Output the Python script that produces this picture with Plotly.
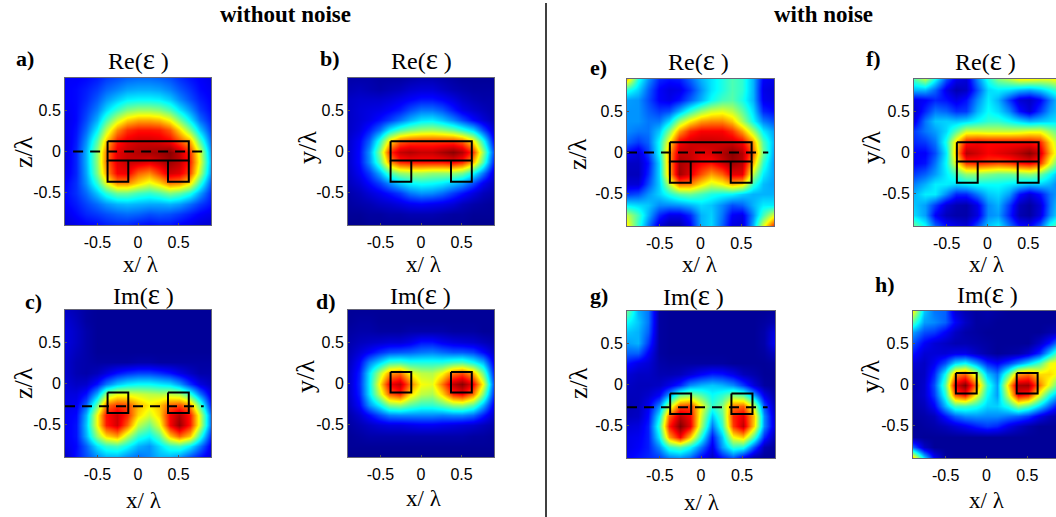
import plotly.graph_objects as go

W, H = 1056, 517
grid = [-0.9, -0.77, -0.64, -0.51, -0.39, -0.26, -0.13, 0, 0.13, 0.26, 0.39, 0.51, 0.64, 0.77, 0.9]
grid_y = grid[::-1]

panel_a = [
[12,12,13,15,18,20,22,23,23,22,20,17,14,12,10],
[12,13,15,18,22,25,28,29,29,28,25,21,17,13,11],
[12,13,16,21,27,32,36,37,37,36,32,26,20,15,12],
[11,13,18,25,34,43,50,53,53,51,45,36,27,18,13],
[10,13,20,30,44,58,67,71,71,69,62,50,36,23,15],
[10,14,23,37,56,74,83,86,86,85,79,67,50,32,18],
[9,15,27,46,68,85,90,92,92,91,88,80,70,45,22],
[9,16,30,52,75,90,93,95,96,97,99,94,82,58,26],
[9,16,30,52,76,90,93,92,90,93,97,94,84,60,28],
[10,16,29,50,72,88,89,78,74,82,92,90,80,55,26],
[12,17,27,42,60,74,74,66,60,66,76,74,64,42,20],
[13,17,23,32,41,48,48,44,42,45,50,47,40,28,16],
[12,15,19,23,27,30,31,30,29,29,30,28,23,18,14],
[10,13,16,18,20,22,23,22,20,21,20,18,15,12,10],
[8,10,12,13,15,16,16,14,13,14,14,12,10,8,7]]

panel_b = [
[3,3,3,2,2,2,3,4,4,3,2,1,1,1,1],
[4,5,4,3,4,5,7,8,8,6,4,3,2,2,2],
[6,7,7,7,8,10,12,14,14,12,9,6,4,3,3],
[6,8,9,10,12,15,20,24,24,21,15,10,7,5,3],
[6,8,10,14,18,24,30,35,36,32,26,20,13,8,4],
[6,9,15,24,36,45,50,53,54,52,48,42,34,20,7],
[7,12,22,42,64,78,81,82,82,82,82,78,64,40,12],
[7,13,27,52,82,93,95,93,93,96,99,95,82,52,18],
[7,13,26,46,72,84,86,86,86,86,88,84,70,45,14],
[6,11,18,30,44,52,54,54,52,52,52,49,38,24,8],
[5,8,13,19,26,33,37,39,38,36,32,28,20,11,5],
[3,5,8,11,14,18,24,27,26,23,18,14,9,5,3],
[2,3,4,6,7,9,11,12,11,10,8,5,3,2,1],
[1,1,2,2,3,3,4,4,4,3,2,2,1,1,1],
[0,0,1,1,1,1,1,1,1,1,1,1,0,0,0]]

panel_c = [
[6,4,2,1,1,1,1,1,1,1,1,1,1,1,1],
[8,5,2,1,1,1,1,1,1,1,1,1,1,1,1],
[9,6,3,1,1,1,1,1,1,1,1,1,1,1,1],
[9,6,3,1,1,1,1,1,1,1,1,1,1,1,1],
[8,5,3,1,1,1,1,1,1,1,1,1,1,1,1],
[7,4,3,2,2,2,2,3,3,2,2,2,2,2,2],
[7,4,3,5,9,14,17,19,19,17,14,10,6,3,3],
[8,6,7,14,24,32,36,38,38,36,34,28,17,9,5],
[9,9,14,30,52,60,60,58,56,55,56,54,42,24,9],
[10,11,22,48,76,82,80,70,64,68,78,80,72,45,14],
[11,13,30,62,86,92,84,66,58,66,88,95,85,58,22],
[11,14,32,62,85,92,78,56,48,60,88,98,85,58,22],
[11,14,30,52,66,72,56,42,37,46,68,78,68,42,15],
[10,13,22,35,42,44,38,30,27,34,42,44,36,24,10],
[6,14,20,26,30,30,26,23,26,30,30,27,20,14,8]]

panel_d = [
[1,1,1,1,1,1,1,1,1,1,1,1,1,1,1],
[1,2,2,1,1,1,1,1,1,1,1,1,1,1,1],
[2,3,3,2,2,2,3,3,3,3,2,2,2,1,1],
[3,5,6,7,8,8,10,14,14,11,9,8,7,5,3],
[4,8,12,17,20,21,22,24,25,23,21,21,19,13,6],
[5,12,25,34,42,43,40,40,40,40,43,44,38,30,10],
[6,15,35,56,72,76,62,56,55,62,76,80,70,48,14],
[6,16,36,65,88,94,76,62,60,76,94,99,88,62,18],
[6,15,35,58,78,84,66,56,54,66,84,88,76,50,15],
[5,12,27,38,50,52,46,42,42,46,52,53,46,30,10],
[3,7,13,20,25,26,26,26,26,25,26,26,23,15,6],
[2,4,6,8,9,9,10,11,11,10,9,8,7,5,3],
[1,2,3,3,3,3,3,3,3,3,3,3,2,2,1],
[1,1,1,1,1,1,1,1,1,1,1,1,1,1,1],
[0,0,0,0,0,0,0,0,0,0,0,0,0,0,0]]

panel_e = [
[68,40,27,16,14,15,22,30,35,40,45,42,30,12,10],
[40,33,22,12,9,10,17,27,35,40,45,42,30,10,8],
[28,27,20,12,10,14,22,30,38,44,46,40,30,11,9],
[27,27,22,18,20,30,42,52,58,60,56,47,34,16,13],
[27,27,24,24,34,52,64,72,74,74,68,54,38,25,20],
[26,24,24,32,50,72,84,88,88,88,83,72,54,36,28],
[22,18,22,38,64,88,92,93,93,92,92,88,72,45,30],
[12,8,18,38,72,93,93,90,91,95,99,95,78,48,28],
[6,6,14,34,72,96,93,88,86,92,97,94,70,42,27],
[5,5,16,34,70,97,90,80,72,78,90,90,56,36,28],
[8,8,20,33,56,76,75,65,58,62,70,66,42,31,28],
[18,20,27,33,40,46,48,44,40,38,37,33,30,30,30],
[36,34,32,26,26,27,30,34,32,26,20,22,30,36,36],
[56,44,30,16,10,10,16,30,33,24,12,10,26,44,60],
[64,42,24,8,3,3,12,30,34,22,9,8,30,60,85]]

panel_f = [
[45,55,38,20,10,8,25,40,50,55,62,62,60,60,65],
[30,30,22,10,4,6,20,34,36,34,30,28,32,38,45],
[10,12,16,14,10,14,26,36,30,18,8,6,12,24,35],
[7,16,24,22,17,18,30,38,34,26,14,8,18,28,34],
[10,24,32,33,32,34,38,42,42,38,34,30,32,34,36],
[18,24,28,34,46,58,58,57,57,57,58,60,60,52,44],
[16,18,24,40,66,86,88,87,87,87,87,87,84,66,50],
[12,12,20,36,70,95,92,88,90,92,95,99,92,70,52],
[12,14,24,38,62,82,84,82,80,82,86,88,82,60,40],
[18,22,28,36,44,52,52,50,48,48,50,52,48,38,28],
[25,30,36,36,34,36,38,38,38,36,34,32,33,30,24],
[30,36,36,26,16,16,24,32,34,28,14,8,14,24,30],
[32,28,18,8,4,3,10,26,30,18,5,2,8,24,36],
[34,28,12,5,3,3,9,26,28,16,4,2,9,26,38],
[48,38,22,14,10,8,20,32,36,24,14,12,22,40,50]]

panel_g = [
[48,30,24,2,1,1,1,1,1,1,1,1,1,1,2],
[38,32,24,2,1,1,1,1,1,1,1,1,1,2,4],
[32,30,22,2,1,1,1,1,1,1,1,1,1,3,10],
[28,30,18,2,1,1,1,1,1,1,1,1,1,3,12],
[22,22,12,2,1,1,1,1,1,1,1,1,1,2,6],
[14,10,8,3,2,2,2,2,2,2,1,1,1,1,2],
[8,6,6,4,4,5,8,12,15,14,10,5,3,1,1],
[6,5,5,6,10,16,26,30,32,30,26,18,8,2,1],
[5,5,7,12,28,48,52,46,38,42,50,46,28,10,2],
[4,5,11,26,56,80,82,62,42,50,76,78,56,20,4],
[5,6,13,36,78,94,88,58,32,46,84,90,68,26,6],
[8,9,15,42,85,100,90,54,24,42,82,94,66,26,7],
[10,11,15,36,72,88,68,40,14,32,62,68,44,16,3],
[10,12,15,26,42,46,38,24,10,28,42,40,20,4,1],
[12,14,16,18,24,26,22,12,6,14,20,10,2,1,1]]

panel_h = [
[62,32,24,22,8,4,2,3,2,1,1,1,1,1,1],
[45,28,26,22,12,6,2,2,1,1,1,1,1,1,2],
[28,20,18,12,6,3,2,1,1,1,1,1,1,3,6],
[20,12,8,6,4,4,3,2,1,1,1,1,6,14,28],
[14,8,8,8,10,10,6,3,1,2,3,7,16,32,50],
[8,6,11,20,34,38,28,16,12,18,26,34,44,60,65],
[5,6,16,38,72,78,58,32,24,46,72,76,66,66,60],
[4,7,20,46,90,100,76,42,28,66,96,97,76,60,42],
[4,7,18,40,78,86,62,38,28,58,88,84,60,40,26],
[3,5,12,30,44,44,40,33,33,40,52,46,34,22,10],
[2,3,5,14,22,26,27,26,26,24,22,18,10,5,2],
[1,2,3,5,8,11,15,18,16,10,6,3,1,1,1],
[2,1,1,1,1,1,1,1,1,1,1,1,1,1,1],
[22,6,1,1,1,1,1,1,1,1,1,1,1,1,1],
[70,35,12,2,1,1,1,1,1,1,1,1,1,1,1]]

tick_vals = [-0.5, 0, 0.5]
tick_text = ["-0.5", "0", "0.5"]

# structure outlines (x/lambda, y/lambda), None separates pieces
bar_x = [-0.375,0.626,0.626,-0.375,-0.375,None,-0.375,-0.375,-0.12,-0.12,None,0.37,0.37,0.626,0.626]
bar_y = [0.127,0.127,-0.11,-0.11,0.127,None,-0.11,-0.37,-0.37,-0.11,None,-0.11,-0.37,-0.37,-0.11]
sq_x = [-0.375,-0.12,-0.12,-0.375,-0.375,None,0.37,0.626,0.626,0.37,0.37]
sq_z_y = [-0.11,-0.11,-0.36,-0.36,-0.11,None,-0.11,-0.11,-0.36,-0.36,-0.11]
sq_y_y = [0.14,0.14,-0.11,-0.11,0.14,None,0.14,0.14,-0.11,-0.11,0.14]

jet = [[0,"#00008f"],[0.125,"#0000ff"],[0.375,"#00ffff"],[0.625,"#ffff00"],[0.875,"#ff0000"],[1,"#800000"]]

SERIF = "Liberation Serif"
SANS = "Liberation Sans"

panels = [
 ("a)", panel_a, (65,78,211,225), (25,58), (138,59), "Re", (141,264), (23,152), "z/λ", (bar_x,bar_y), (0,-0.8,0.83)),
 ("b)", panel_b, (348,78,494,225), (330,58), (421,59), "Re", (424,264), (308,148), "y/λ", (bar_x,bar_y), None),
 ("c)", panel_c, (65,310,211,457), (33,301), (143,294), "Im", (144,500), (23,383), "z/λ", (sq_x,sq_z_y), (-0.28,-0.9,0.81)),
 ("d)", panel_d, (348,310,494,457), (326,301), (420,294), "Im", (424,498), (305,377), "y/λ", (sq_x,sq_y_y), None),
 ("e)", panel_e, (627,79,774,226), (598,67), (698,60), "Re", (700,264), (577,154), "z/λ", (bar_x,bar_y), (0,-0.9,0.83)),
 ("f)", panel_f, (914,79,1061,226), (873,58), (985,60), "Re", (987,264), (872,148), "y/λ", (bar_x,bar_y), None),
 ("g)", panel_g, (627,311,775,458), (599,295), (693,295), "Im", (702,502), (578,383), "z/λ", (sq_x,sq_z_y), (-0.28,-0.9,0.81)),
 ("h)", panel_h, (913,311,1060,458), (885,284), (987,293), "Im", (987,500), (870,377), "y/λ", (sq_x,sq_y_y), None),
]

fig = go.Figure()
anns = []
def ann(x, y, text, size, family=SERIF, angle=0):
    anns.append(dict(x=x/W, y=1-y/H, xref="paper", yref="paper", text=text, showarrow=False,
                     xanchor="center", yanchor="middle", textangle=angle,
                     font=dict(family=family, size=size, color="black")))

layout_axes = {}
for i, (letter, z, box, lpos, tpos, part, xl, yl, ylab, outline, dash) in enumerate(panels):
    n = "" if i == 0 else str(i+1)
    l, t, r, b = box
    rng_hi = 0.9
    right = r
    if r > W:
        rng_hi = -0.9 + 1.8*(W-l)/(r-l)
        right = W
    fig.add_trace(go.Heatmap(x=grid, y=grid_y, z=z, colorscale=jet, zmin=0, zmax=100, zsmooth="best",
                             showscale=False, xaxis="x"+n, yaxis="y"+n, hoverinfo="skip"))
    fig.add_trace(go.Scatter(x=outline[0], y=outline[1], mode="lines", line=dict(color="black", width=2),
                             xaxis="x"+n, yaxis="y"+n, showlegend=False, hoverinfo="skip", connectgaps=False))
    if dash:
        fig.add_trace(go.Scatter(x=[dash[1],dash[2]], y=[dash[0],dash[0]], mode="lines",
                                 line=dict(color="black", width=2, dash="10px,7px"),
                                 xaxis="x"+n, yaxis="y"+n, showlegend=False, hoverinfo="skip"))
    common = dict(tickvals=tick_vals, ticktext=tick_text, ticks="inside", ticklen=2, tickcolor="#555",
                  showgrid=False, zeroline=False, showline=True, linecolor="#667", linewidth=1, mirror=True,
                  tickfont=dict(family=SANS, size=16, color="black"))
    layout_axes["xaxis"+n] = dict(domain=[l/W, right/W], range=[-0.9, rng_hi], anchor="y"+n, ticklabelstandoff=3, **common)
    layout_axes["yaxis"+n] = dict(domain=[1-b/H, 1-t/H], range=[-0.9, 0.9], anchor="x"+n, **common)
    ann(lpos[0], lpos[1], "<b>%s</b>" % letter, 22)
    ann(tpos[0], tpos[1], '%s(<span style="font-size:29px">ε</span> )' % part, 24)
    ann(xl[0], xl[1], "x/ λ", 23)
    ann(yl[0], yl[1], ylab, 26, angle=-90)

ann(285, 14, "<b>without noise</b>", 23)
ann(823, 14, "<b>with noise</b>", 23)

fig.update_layout(width=W, height=H, margin=dict(l=0, r=0, t=0, b=0), paper_bgcolor="white", plot_bgcolor="white",
                  showlegend=False, annotations=anns,
                  shapes=[dict(type="line", xref="paper", yref="paper", x0=546/W, x1=546/W, y0=0, y1=1-3/H,
                               line=dict(color="black", width=1.5))],
                  **layout_axes)
fig.write_html("out.html", config={"displayModeBar": False},
               post_script="document.body.style.margin='0';document.documentElement.style.overflow='hidden';")
